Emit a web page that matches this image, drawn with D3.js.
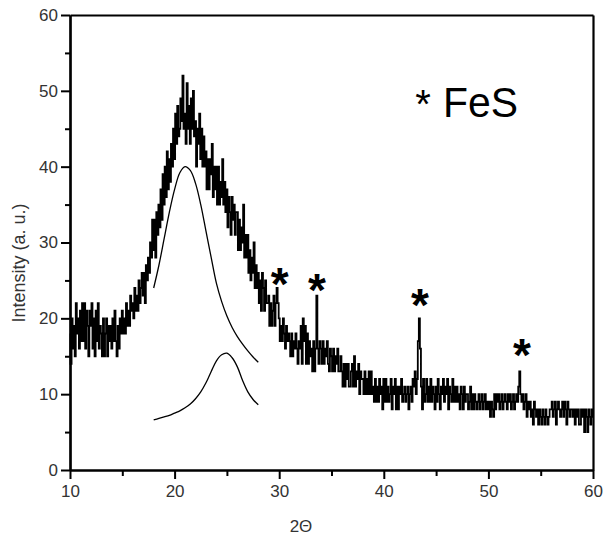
<!DOCTYPE html>
<html><head><meta charset="utf-8">
<script src="https://cdn.jsdelivr.net/npm/d3@7"></script>
<style>
html,body{margin:0;padding:0;background:#fff;}
svg{display:block;}
text{font-family:"Liberation Sans",Arial,sans-serif;}
</style></head>
<body>
<svg id="chart" width="603" height="543"></svg>
<script>
// ---- data ----
const thetaStart = 10, thetaStep = 0.1;   // 2θ grid of the measured pattern
const intensity = [
18,14,20,16,19,15,22,18,20,16,
21,17,22,17,22,16,21,19,15,21,
19,22,16,20,15,21,17,22,16,19,
18,15,20,15,18,20,15,19,17,19,
16,20,17,21,17,15,19,16,20,18,
21,18,20,18,22,19,21,19,23,21,
22,20,24,21,23,21,25,22,24,26,
23,26,22,27,25,28,26,30,28,33,
29,33,28,34,31,35,32,37,33,39,
35,40,36,42,37,41,38,43,40,45,
41,47,43,48,44,45,49,46,52,45,
47,43,51,45,48,43,49,45,50,44,
46,40,45,43,47,41,45,40,44,40,
42,37,41,37,41,39,43,36,40,37,
40,35,40,35,38,36,41,35,38,34,
37,32,36,34,31,36,33,35,31,34,
34,29,33,29,32,30,35,28,31,28,
31,26,29,25,28,26,30,24,27,24,
26,22,25,21,26,24,21,25,22,22,
23,19,22,19,21,23,19,22,24,22,
20,17,19,17,20,18,16,19,17,18,
17,15,18,15,17,16,18,16,14,17,
16,19,14,20,17,19,14,18,14,17,
15,16,13,17,13,16,23,16,14,17,
16,14,17,14,16,15,17,14,13,16,
15,13,16,13,15,14,16,13,13,15,
13,11,14,11,14,12,14,11,11,13,
14,11,15,11,13,12,14,10,13,12,
12,10,13,10,12,10,13,10,13,10,
11,9,12,9,11,9,12,10,11,8,
12,9,12,9,11,9,10,12,8,11,
10,12,8,11,8,11,10,12,9,10,
11,9,10,11,8,10,11,9,12,11,
13,10,12,17,20,16,11,8,12,9,
10,12,9,11,9,12,9,11,10,8,
11,9,12,10,8,11,10,12,9,11,
10,12,8,11,10,9,12,9,11,9,
11,9,10,8,11,10,8,11,9,10,
10,8,9,11,8,10,8,10,9,8,
9,10,8,9,10,8,9,10,8,9,
8,9,7,9,8,7,10,8,10,9,
10,8,9,10,8,9,10,9,8,10,
9,10,8,9,10,8,9,10,9,11,
13,10,9,10,8,9,10,7,9,8,
9,7,8,6,9,8,7,8,6,8,
7,6,8,7,6,8,7,6,7,8,
8,9,7,8,9,6,8,9,8,7,
8,9,7,9,8,6,9,8,7,8,
8,7,8,6,8,7,8,6,6,8,
7,8,5,8,7,5,8,7,6,8,
7
];
// fitted component curves
const fitTheta = [18,18.5,19,19.5,20,20.5,21,21.5,22,22.5,23,23.5,24,24.5,25,25.5,26,26.5,27,27.5,28];
const fitBroad = [24,27,30.5,34,37,39.2,40,39.5,37.8,35,31.5,28,24.6,22.2,20.3,18.8,17.6,16.6,15.7,14.9,14.2];
const fitNarrow = [6.6,6.8,7.0,7.2,7.5,7.8,8.2,8.7,9.4,10.3,11.5,13.0,14.4,15.2,15.4,14.8,13.6,11.8,10.3,9.3,8.6];
// FeS reflection markers (position, height of the star)
const starTheta = [30.05, 33.6, 43.45, 53.2];
const starY = [26.0, 25.1, 23.2, 16.6];
// axis ticks
const xMajor = [10,20,30,40,50,60];
const xMinor = [15,25,35,45,55];
const yMajor = [0,10,20,30,40,50,60];
const yMinor = [5,15,25,35,45,55];
const xTitle = "2\u0398";
const yTitle = "Intensity (a. u.)";
const legendText = "FeS";

// ---- drawing ----
const svg = d3.select("#chart");
const x = d3.scaleLinear().domain([10,60]).range([70,593]);
const y = d3.scaleLinear().domain([0,60]).range([470,15]);

const pattern = intensity.map((v,i)=>({t: thetaStart + i*thetaStep, v}));

// data trace
svg.append("path")
  .datum(pattern)
  .attr("fill","none").attr("stroke","#000").attr("stroke-width",1.8)
  .attr("d", d3.line().x(d=>x(d.t)).y(d=>y(d.v)).curve(d3.curveStep));

// fitted curves
const fitLine = d3.line().x(d=>x(d[0])).y(d=>y(d[1])).curve(d3.curveCatmullRom);
svg.append("path").datum(fitTheta.map((t,i)=>[t,fitBroad[i]]))
  .attr("fill","none").attr("stroke","#000").attr("stroke-width",1.3).attr("d",fitLine);
svg.append("path").datum(fitTheta.map((t,i)=>[t,fitNarrow[i]]))
  .attr("fill","none").attr("stroke","#000").attr("stroke-width",1.3).attr("d",fitLine);

// axes
function styleAxis(g){
  g.selectAll(".domain").attr("stroke","#000").attr("stroke-width",2.2);
  g.selectAll(".tick line").attr("stroke","#000").attr("stroke-width",2);
  g.selectAll(".tick text").attr("fill","#333").style("font-size","17px")
   .style("font-family","'Liberation Sans', Arial, sans-serif");
}
const gxMinor = svg.append("g").attr("transform","translate(0,470)")
  .call(d3.axisBottom(x).tickValues(xMinor).tickSize(6).tickSizeOuter(0).tickFormat(""));
styleAxis(gxMinor);
const gx = svg.append("g").attr("transform","translate(0,470)")
  .call(d3.axisBottom(x).tickValues(xMajor).tickSize(9).tickSizeOuter(0).tickPadding(6).tickFormat(d3.format("d")));
styleAxis(gx);
const gyMinor = svg.append("g").attr("transform","translate(70,0)")
  .call(d3.axisLeft(y).tickValues(yMinor).tickSize(5).tickSizeOuter(0).tickFormat(""));
styleAxis(gyMinor);
const gy = svg.append("g").attr("transform","translate(70,0)")
  .call(d3.axisLeft(y).tickValues(yMajor).tickSize(9).tickSizeOuter(0).tickPadding(3).tickFormat(d3.format("d")));
styleAxis(gy);
const gt = svg.append("g").attr("transform","translate(0,15)")
  .call(d3.axisTop(x).tickValues([]).tickSizeOuter(0));
styleAxis(gt);
const gr = svg.append("g").attr("transform","translate(593,0)")
  .call(d3.axisRight(y).tickValues([]).tickSizeOuter(0));
styleAxis(gr);

// axis titles
svg.append("text").attr("x",301).attr("y",532).attr("text-anchor","middle")
  .attr("fill","#333").style("font-size","17px").text(xTitle);
svg.append("text").attr("transform","translate(25,263) rotate(-90)").attr("text-anchor","middle")
  .attr("fill","#333").style("font-size","18px").text(yTitle);

// star markers
const starFs = 46;
svg.selectAll("text.star").data(starTheta).join("text").attr("class","star")
  .attr("x",(d)=>x(d)).attr("y",(d,i)=>y(starY[i]) + 0.58*starFs)
  .attr("text-anchor","middle").style("font-size",starFs+"px").style("font-weight","bold")
  .attr("fill","#000").text("*");

// legend
svg.append("text").attr("x",423).attr("y",95 + 0.58*40).attr("text-anchor","middle")
  .style("font-size","40px").attr("fill","#000").text("*");
svg.append("text").attr("x",443).attr("y",117).style("font-size","42px")
  .attr("fill","#000").attr("textLength",75).attr("lengthAdjust","spacingAndGlyphs").text(legendText);
</script>
</body></html>
